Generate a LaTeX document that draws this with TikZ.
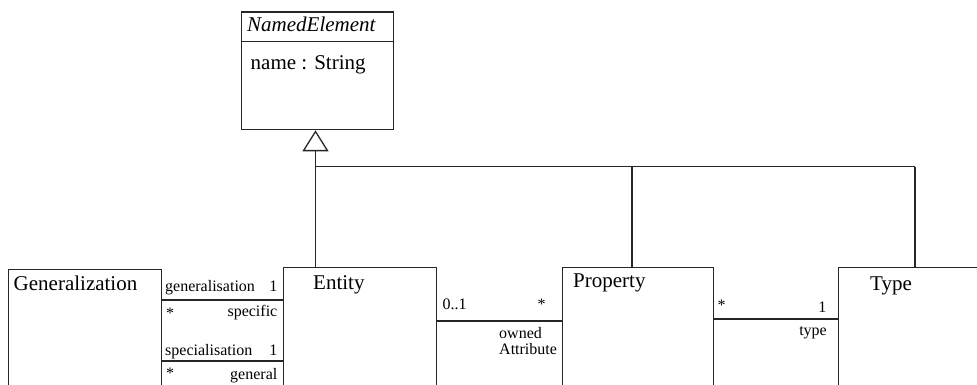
\documentclass[tikz,border=0pt]{standalone}
\usepackage{fontspec}
\setmainfont{Liberation Serif}
\usetikzlibrary{arrows.meta}
\begin{document}
\begin{tikzpicture}[x=1pt,y=-1pt,
  uml/.style={draw=black!85, line width=1.3pt},
  cls/.style={uml, rectangle, inner sep=0pt, anchor=north west, minimum height=140pt},
  big/.style={font=\fontsize{21}{24}\selectfont, inner sep=0pt},
  small/.style={font=\fontsize{16}{18}\selectfont, inner sep=0pt},
  inherit/.style={uml, -{Triangle[open, length=21pt, width=26pt]}}]
\useasboundingbox (0,0) rectangle (977,385);
\clip (0,0) rectangle (977,385);

% classes
\node[cls, minimum width=152pt, minimum height=117.5pt] (ne) at (241,11.5) {};
\draw[uml] (ne.west |- 0,41.5) -- (ne.east |- 0,41.5);
\node[big, anchor=base west] (neName) at (247,31.5) {\itshape NamedElement};
\node[big, anchor=base west] (neAttr) at (250.5,70) {name : String};

\node[cls, minimum width=153pt] (gen) at (8,268.5) {};
\node[big, anchor=base west] (genName) at (13.5,290.5) {Generalization};

\node[cls, minimum width=153pt] (ent) at (283,267) {};
\node[big, anchor=base west] (entName) at (313,289.5) {Entity};

\node[cls, minimum width=151pt] (prop) at (562,267) {};
\node[big, anchor=base west] (propName) at (573,287.5) {Property};

\node[cls, minimum width=160pt] (type) at (838,267) {};
\node[big, anchor=base west] (typeName) at (870,290) {Type};

% generalisation tree
\coordinate (j) at (315.5,166.7);
\coordinate (jp) at (632,166.7);
\coordinate (jt) at (915,166.7);
\draw[uml] (jt) -- (j) -- (ent.north -| j);
\draw[uml] (jp) -- (prop.north -| jp);
\draw[uml] (jt) -- (type.north -| jt);
\draw[inherit] (j) -- (ne.south -| j);

% associations
\draw[uml] (gen.east |- 0,300) -- (ent.west |- 0,300);
\draw[uml] (gen.east |- 0,361) -- (ent.west |- 0,361);
\draw[uml] (ent.east |- 0,321) -- (prop.west |- 0,321);
\draw[uml] (prop.east |- 0,319) -- (type.west |- 0,319);

% association end labels
\node[small, anchor=base west] (l1) at (165,291.5) {generalisation};
\node[small, anchor=base east] (l2) at (277.5,291.5) {1};
\node[small, anchor=base west] (l3) at (166,318.5) {*};
\node[small, anchor=base east] (l4) at (277.5,316.5) {specific};
\node[small, anchor=base west] (l5) at (165,355) {specialisation};
\node[small, anchor=base east] (l6) at (277.5,355) {1};
\node[small, anchor=base west] (l7) at (166,378.5) {*};
\node[small, anchor=base east] (l8) at (277.5,379) {general};

\node[small, anchor=base west] (l9) at (442.5,309) {0..1};
\node[small, anchor=base west] (l10) at (537.5,309.5) {*};
\node[small, anchor=base west] (l11) at (499,338) {owned};
\node[small, anchor=base west] (l11b) at (499,354) {Attribute};

\node[small, anchor=base west] (l12) at (717.5,310) {*};
\node[small, anchor=base east] (l13) at (826.5,312) {1};
\node[small, anchor=base east] (l14) at (827,335) {type};
\end{tikzpicture}
\end{document}
